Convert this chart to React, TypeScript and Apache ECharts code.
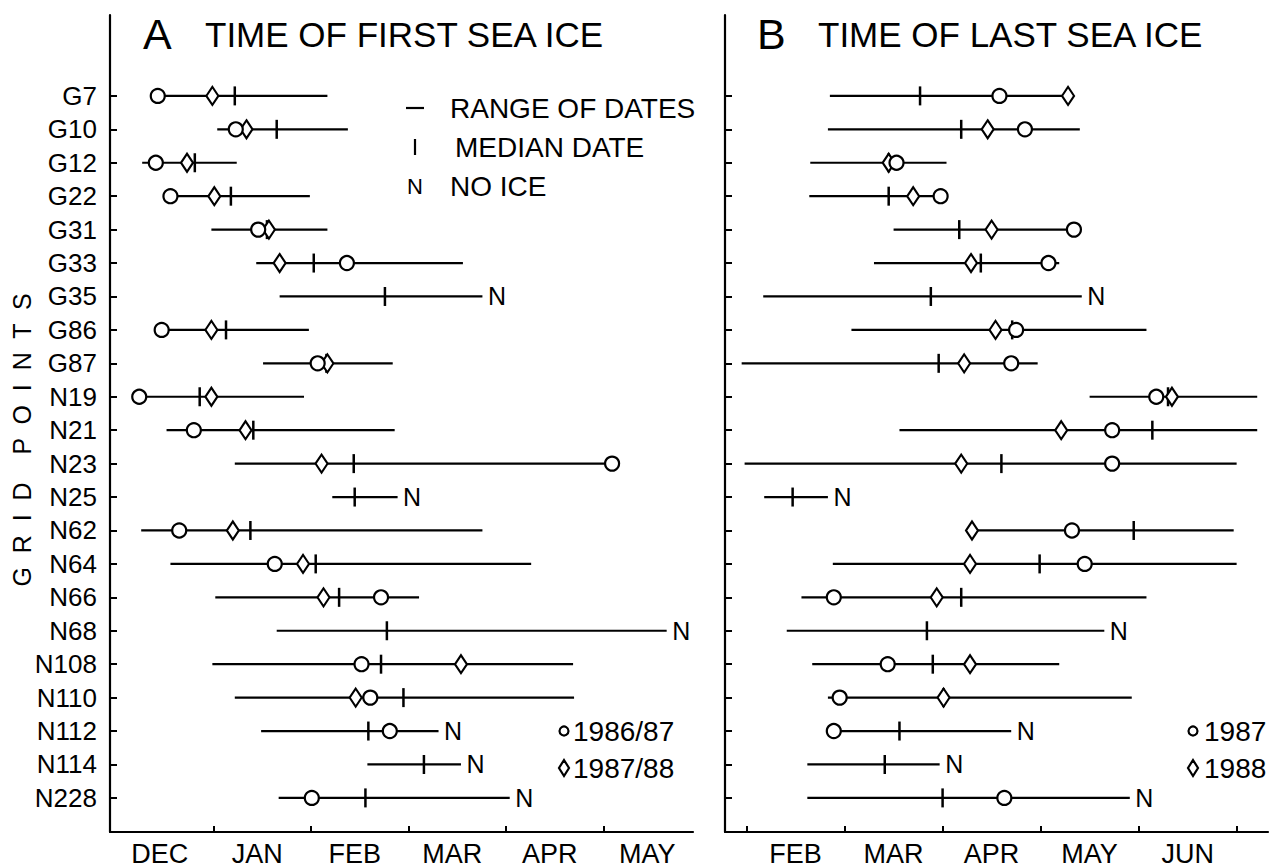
import React, { useEffect, useRef } from "react";
import * as echarts from "echarts";

// Grid points (rows, top to bottom)
const rows = ["G7", "G10", "G12", "G22", "G31", "G33", "G35", "G86", "G87", "N19", "N21", "N23", "N25", "N62", "N64", "N66", "N68", "N108", "N110", "N112", "N114", "N228"];

// Panel A: time of first sea ice, in months after 1 December
const firstMonths = ["DEC", "JAN", "FEB", "MAR", "APR", "MAY"];
const firstStart = [0.43, 1.04, 0.27, 0.56, 0.98, 1.44, 1.68, 0.47, 1.51, 0.24, 0.52, 1.22, 2.22, 0.26, 0.56, 1.02, 1.65, 0.99, 1.22, 1.49, 2.58, 1.67];
const firstEnd = [2.17, 2.38, 1.24, 1.99, 2.17, 3.56, 3.76, 1.98, 2.84, 1.93, 2.86, 5.09, 2.89, 3.76, 4.26, 3.11, 5.65, 4.69, 4.7, 3.31, 3.54, 4.04];
const firstMedian = [1.22, 1.65, 0.81, 1.18, 1.55, 2.03, 2.76, 1.13, 2.16, 0.86, 1.41, 2.44, 2.45, 1.38, 2.05, 2.29, 2.78, 2.72, 2.95, 2.59, 3.16, 2.56];
const first1986 = [0.43, 1.23, 0.41, 0.56, 1.46, 2.37, null, 0.47, 2.07, 0.24, 0.8, 5.09, null, 0.65, 1.63, 2.72, null, 2.52, 2.61, 2.81, null, 2.01];
const first1987 = [0.99, 1.34, 0.73, 1.01, 1.57, 1.68, null, 0.98, 2.17, 0.98, 1.33, 2.11, null, 1.2, 1.92, 2.13, null, 3.54, 2.46, null, null, null];
const firstNoIce = [0, 0, 0, 0, 0, 0, 1, 0, 0, 0, 0, 0, 1, 0, 0, 0, 1, 0, 0, 1, 1, 1];

// Panel B: time of last sea ice, in months after 1 February
const lastMonths = ["FEB", "MAR", "APR", "MAY", "JUN"];
const lastStart = [0.85, 0.83, 0.65, 0.64, 1.5, 1.3, 0.17, 1.07, -0.05, 3.5, 1.56, -0.02, 0.18, 2.3, 0.88, 0.56, 0.41, 0.67, 0.83, 0.85, 0.62, 0.62];
const lastEnd = [3.28, 3.4, 2.04, 1.98, 3.34, 3.19, 3.42, 4.08, 2.97, 5.21, 5.21, 5.0, 0.83, 4.97, 5.0, 4.08, 3.65, 3.19, 3.93, 2.7, 1.97, 3.91];
const lastMedian = [1.77, 2.19, 1.45, 1.45, 2.17, 2.39, 1.88, 2.71, 1.96, 4.3, 4.14, 2.6, 0.47, 3.95, 2.99, 2.19, 1.84, 1.9, 2.01, 1.56, 1.41, 2.0];
const last1987 = [2.58, 2.84, 1.53, 1.98, 3.34, 3.08, null, 2.75, 2.7, 4.18, 3.73, 3.73, null, 3.32, 3.45, 0.89, null, 1.44, 0.95, 0.89, null, 2.63];
const last1988 = [3.28, 2.46, 1.45, 1.7, 2.5, 2.29, null, 2.54, 2.22, 4.34, 3.21, 2.19, null, 2.3, 2.28, 1.94, null, 2.28, 2.01, null, null, null];
const lastNoIce = [0, 0, 0, 0, 0, 0, 1, 0, 0, 0, 0, 0, 1, 0, 0, 0, 1, 0, 0, 1, 1, 1];

const FONT = "Liberation Sans";
const INK = "#000";

function panelSeries(idx: number, start: number[], end: number[], median: number[], yrA: (number | null)[], yrB: (number | null)[], noIce: number[]) {
  const rangeData = rows.map((_, i) => [start[i], end[i], i]);
  const medData = rows.map((_, i) => [median[i], i]);
  const aData = rows.map((_, i) => (yrA[i] == null ? null : [yrA[i], i])).filter((d) => d);
  const bData = rows.map((_, i) => (yrB[i] == null ? null : [yrB[i], i])).filter((d) => d);
  const nData = rows.map((_, i) => (noIce[i] ? [end[i], i] : null)).filter((d) => d);
  return [
    {
      type: "custom",
      xAxisIndex: idx,
      yAxisIndex: idx,
      data: rangeData,
      encode: { x: [0, 1], y: 2 },
      renderItem: (params: any, api: any) => {
        const s = api.coord([api.value(0), api.value(2)]);
        const e = api.coord([api.value(1), api.value(2)]);
        return {
          type: "line",
          shape: { x1: s[0], y1: s[1], x2: e[0], y2: e[1] },
          style: { stroke: INK, lineWidth: 2.2 },
        };
      },
      z: 1,
    },
    {
      type: "scatter",
      xAxisIndex: idx,
      yAxisIndex: idx,
      data: medData,
      symbol: "rect",
      symbolSize: [2.5, 19],
      itemStyle: { color: INK, opacity: 1 },
      z: 2,
    },
    {
      type: "scatter",
      xAxisIndex: idx,
      yAxisIndex: idx,
      data: bData,
      symbol: "diamond",
      symbolSize: [12, 18],
      itemStyle: { color: "#fff", borderColor: INK, borderWidth: 2.2, opacity: 1 },
      z: 3,
    },
    {
      type: "scatter",
      xAxisIndex: idx,
      yAxisIndex: idx,
      data: aData,
      symbol: "circle",
      symbolSize: 14,
      itemStyle: { color: "#fff", borderColor: INK, borderWidth: 2.2, opacity: 1 },
      z: 4,
    },
    {
      type: "scatter",
      xAxisIndex: idx,
      yAxisIndex: idx,
      data: nData,
      symbolSize: 1,
      itemStyle: { color: "rgba(0,0,0,0)", opacity: 1 },
      label: {
        show: true,
        formatter: "N",
        position: "right",
        distance: 5,
        fontSize: 25,
        fontFamily: FONT,
        color: INK,
        opacity: 1,
      },
      z: 5,
    },
  ];
}

export default function App() {
  const ref = useRef<HTMLDivElement>(null);
  useEffect(() => {
    if (!ref.current) return;
    const chart = echarts.init(ref.current, null, { renderer: "svg" });
    const rowIdx = rows.map((_, i) => i);
    const yAxisBase = (gridIndex: number, showLabels: boolean) => ({
      type: "value",
      gridIndex,
      inverse: true,
      min: -2.42,
      max: 22.02,
      axisLine: { show: true, onZero: false, lineStyle: { color: INK, width: 2.2 } },
      axisTick: { show: true, inside: true, length: 7, customValues: rowIdx, lineStyle: { color: INK, width: 2 } },
      axisLabel: {
        show: showLabels,
        customValues: rowIdx,
        formatter: (v: number) => rows[Math.round(v)],
        fontSize: 26,
        fontFamily: FONT,
        color: INK,
        margin: 13,
      },
      splitLine: { show: false },
    });
    const xAxisBase = (gridIndex: number, min: number, max: number, ticks: number[], labels: string[], labelOffset: number) => ({
      type: "value",
      gridIndex,
      min,
      max,
      axisLine: { show: true, onZero: false, lineStyle: { color: INK, width: 2.2 } },
      axisTick: { show: true, inside: true, length: 6, customValues: ticks, lineStyle: { color: INK, width: 2 } },
      axisLabel: {
        customValues: labels.map((_, i) => i + labelOffset),
        formatter: (v: number) => labels[Math.round(v - labelOffset)],
        fontSize: 27,
        fontFamily: FONT,
        color: INK,
        margin: 8,
      },
      splitLine: { show: false },
    });

    const ts = (size: number) => ({ fill: INK, fontSize: size, fontFamily: FONT });

    chart.setOption({
      animation: false,
      backgroundColor: "#fff",
      grid: [
        { left: 110, top: 15, width: 583, height: 817 },
        { left: 725, top: 15, width: 543, height: 817 },
      ],
      xAxis: [
        xAxisBase(0, -0.06, 5.92, [1, 2, 3, 4, 5], firstMonths, 0.45),
        xAxisBase(1, -0.22, 5.32, [0, 1, 2, 3, 4, 5], lastMonths, 0.5),
      ],
      yAxis: [yAxisBase(0, true), yAxisBase(1, false)],
      series: [
        ...panelSeries(0, firstStart, firstEnd, firstMedian, first1986, first1987, firstNoIce),
        ...panelSeries(1, lastStart, lastEnd, lastMedian, last1987, last1988, lastNoIce),
      ],
      graphic: [
        // titles
        { type: "text", left: 143, top: 12, style: { text: "A", ...ts(43) } },
        { type: "text", left: 205, top: 17, style: { text: "TIME OF FIRST SEA ICE", ...ts(35) } },
        { type: "text", left: 757, top: 12, style: { text: "B", ...ts(43) } },
        { type: "text", left: 818, top: 17, style: { text: "TIME OF LAST SEA ICE", ...ts(35) } },
        // y axis name
        {
          type: "text",
          x: 22,
          y: 440,
          rotation: Math.PI / 2,
          style: { text: "G  R  I  D    P  O  I  N  T  S", ...ts(25), align: "center", verticalAlign: "middle" },
        },
        // key (panel A)
        { type: "line", shape: { x1: 406, y1: 108, x2: 424, y2: 108 }, style: { stroke: INK, lineWidth: 2.2 } },
        { type: "text", x: 450, y: 108, style: { text: "RANGE OF DATES", ...ts(28), verticalAlign: "middle" } },
        { type: "line", shape: { x1: 415, y1: 139, x2: 415, y2: 155 }, style: { stroke: INK, lineWidth: 2.2 } },
        { type: "text", x: 455, y: 147, style: { text: "MEDIAN DATE", ...ts(28), verticalAlign: "middle" } },
        { type: "text", x: 407, y: 186, style: { text: "N", ...ts(22), verticalAlign: "middle" } },
        { type: "text", x: 450, y: 186, style: { text: "NO ICE", ...ts(28), verticalAlign: "middle" } },
        // year keys (panel A)
        { type: "circle", shape: { cx: 564, cy: 731, r: 4.5 }, style: { fill: "#fff", stroke: INK, lineWidth: 2.2 } },
        { type: "text", x: 573, y: 731, style: { text: "1986/87", ...ts(28), verticalAlign: "middle" } },
        { type: "polygon", shape: { points: [[564, 760], [569, 768], [564, 776], [559, 768]] }, style: { fill: "#fff", stroke: INK, lineWidth: 2.2 } },
        { type: "text", x: 573, y: 768, style: { text: "1987/88", ...ts(28), verticalAlign: "middle" } },
        // year keys (panel B)
        { type: "circle", shape: { cx: 1193, cy: 731, r: 4.5 }, style: { fill: "#fff", stroke: INK, lineWidth: 2.2 } },
        { type: "text", x: 1204, y: 731, style: { text: "1987", ...ts(28), verticalAlign: "middle" } },
        { type: "polygon", shape: { points: [[1193, 760], [1198, 768], [1193, 776], [1188, 768]] }, style: { fill: "#fff", stroke: INK, lineWidth: 2.2 } },
        { type: "text", x: 1204, y: 768, style: { text: "1988", ...ts(28), verticalAlign: "middle" } },
      ],
    });
    return () => chart.dispose();
  }, []);
  return <div ref={ref} style={{ position: "fixed", left: 0, top: 0, width: 1278, height: 868 }} />;
}
